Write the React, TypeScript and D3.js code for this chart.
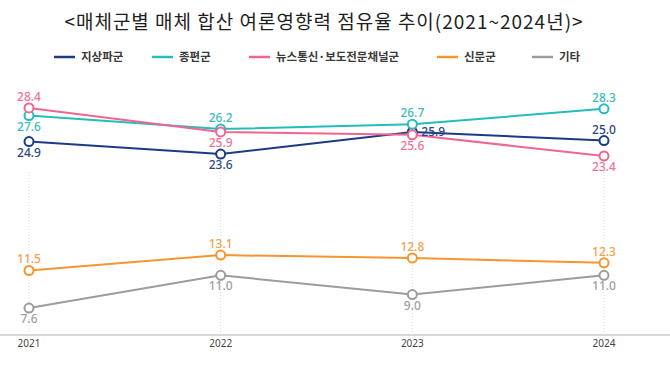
import React from "react";
import * as d3 from "d3";

const years = ["2021", "2022", "2023", "2024"];
const seriesNames = ["지상파군", "종편군", "뉴스통신·보도전문채널군", "신문군", "기타"];
const terrestrial = [24.9, 23.6, 25.9, 25.0];
const generalCable = [27.6, 26.2, 26.7, 28.3];
const newsChannels = [28.4, 25.9, 25.6, 23.4];
const newspapers = [11.5, 13.1, 12.8, 12.3];
const others = [7.6, 11.0, 9.0, 11.0];

const lineColors = ["#1b3b85", "#25bcbc", "#ef6690", "#f5952e", "#9c9c9c"];
const labelColors = ["#2c4784", "#3cbcbc", "#f07397", "#f4a04c", "#9e9e9e"];
const labelPlacement = [
  ["below", "below", "right", "above"],
  ["below", "above", "above", "above"],
  ["above", "below", "below", "below"],
  ["above", "above", "above", "above"],
  ["below", "below", "below", "below"],
];
const legendX = [54, 152, 249, 437, 532];

const W = 670;
const H = 377;

export default function App() {
  const allSeries = [terrestrial, generalCable, newsChannels, newspapers, others];
  const x = d3.scalePoint<string>().domain(years).range([29, 604]);
  const y = d3.scaleLinear().domain([4.9, 30]).range([334, 92.5]);
  const line = d3
    .line<number>()
    .x((_, i) => x(years[i]) as number)
    .y((d) => y(d));

  const font = "'Noto Sans', 'Noto Sans CJK KR', sans-serif";
  const krFont = "'Noto Sans CJK KR', 'Noto Sans', sans-serif";

  return (
    <svg
      width={W}
      height={H}
      style={{ position: "absolute", left: 0, top: 0, background: "#fff" }}
    >
      <rect width={W} height={H} fill="#fff" />
      <text
        x={324}
        y={29}
        textAnchor="middle"
        fontFamily={krFont}
        fontSize={19}
        letterSpacing={1}
        fill="#1e1e1e"
      >
        {"<매체군별 매체 합산 여론영향력 점유율 추이(2021~2024년)>"}
      </text>

      {seriesNames.map((name, i) => (
        <g key={name}>
          <line
            x1={legendX[i]}
            x2={legendX[i] + 21}
            y1={57}
            y2={57}
            stroke={lineColors[i]}
            strokeWidth={2.5}
          />
          <text
            x={legendX[i] + 27}
            y={61}
            fontFamily={krFont}
            fontSize={11.5}
            fontWeight={700}
            fill="#3a3a3a"
          >
            {name}
          </text>
        </g>
      ))}

      {years.map((yr) => (
        <line
          key={"g" + yr}
          x1={x(yr)}
          x2={x(yr)}
          y1={172}
          y2={334}
          stroke="#d8d8d8"
          strokeWidth={1}
          strokeDasharray="1,2"
        />
      ))}

      <line x1={0} x2={W} y1={335} y2={335} stroke="#b0b0b0" strokeWidth={1} />
      {years.map((yr) => (
        <text
          key={"t" + yr}
          x={x(yr)}
          y={347}
          textAnchor="middle"
          fontFamily={font}
          fontSize={10}
          fill="#444"
        >
          {yr}
        </text>
      ))}

      {allSeries.map((s, si) => (
        <path
          key={"l" + si}
          d={line(s) || ""}
          fill="none"
          stroke={lineColors[si]}
          strokeWidth={2}
        />
      ))}
      {allSeries.map((s, si) =>
        s.map((v, i) => (
          <circle
            key={"c" + si + "-" + i}
            cx={x(years[i])}
            cy={y(v)}
            r={4.5}
            fill="#fff"
            stroke={lineColors[si]}
            strokeWidth={2}
          />
        ))
      )}
      {allSeries.map((s, si) =>
        s.map((v, i) => {
          const p = labelPlacement[si][i];
          const px = x(years[i]) as number;
          const py = y(v);
          const lx = p === "right" ? px + 9 : px;
          const ly = p === "above" ? py - 7 : p === "below" ? py + 15 : py + 4;
          return (
            <text
              key={"v" + si + "-" + i}
              x={lx}
              y={ly}
              textAnchor={p === "right" ? "start" : "middle"}
              fontFamily={font}
              fontSize={12}
              fontWeight={500}
              fill={labelColors[si]}
            >
              {v.toFixed(1)}
            </text>
          );
        })
      )}
    </svg>
  );
}
